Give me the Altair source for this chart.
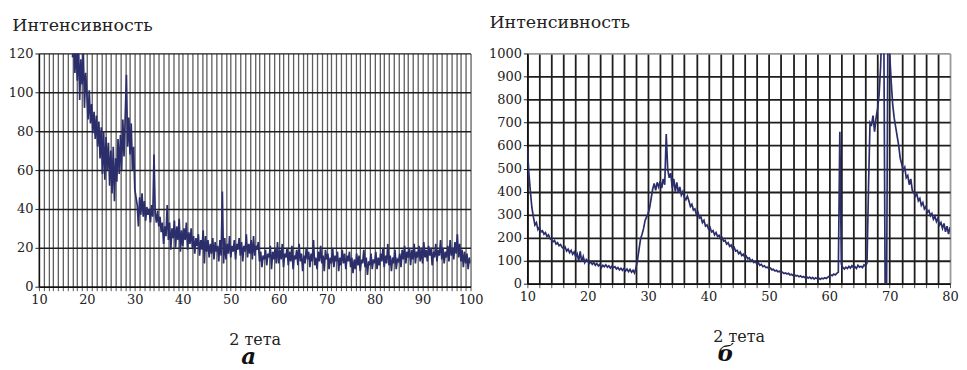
import altair as alt
import pandas as pd

# ---------------- Panel a: 2θ from 17 to 100, step 0.25 ----------------
A_START = 17.0
A_STEP = 0.25
a_17_20 = [118, 126, 110, 123, 106, 127, 96, 117, 104, 122, 92, 110]
a_20_25 = [99, 86, 101, 84, 94, 79, 90, 76, 88, 72, 85, 66, 82, 58, 80, 55, 77, 60, 74, 52]
a_25_30 = [70, 48, 72, 44, 66, 54, 76, 58, 78, 60, 86, 67, 88, 109, 72, 87, 68, 84, 60, 72]
a_30_35 = [50, 46, 42, 31, 46, 37, 48, 36, 44, 34, 41, 37, 40, 33, 42, 36, 68, 38, 33, 39]
a_35_40 = [31, 36, 28, 33, 22, 31, 26, 42, 24, 33, 19, 30, 25, 34, 20, 31, 24, 35, 18, 29]
a_40_45 = [21, 30, 24, 33, 19, 28, 22, 30, 20, 26, 17, 25, 21, 27, 16, 24, 19, 29, 12, 26]
a_45_50 = [18, 24, 15, 22, 17, 25, 14, 23, 18, 21, 13, 24, 16, 49, 12, 25, 14, 22, 17, 26]
a_50_55 = [15, 21, 18, 24, 14, 22, 19, 25, 16, 23, 13, 21, 18, 27, 15, 22, 17, 24, 14, 26]
a_55_60 = [16, 21, 19, 23, 13, 18, 10, 16, 14, 19, 11, 17, 15, 21, 9, 18, 14, 20, 12, 23]
a_60_65 = [12, 19, 14, 22, 10, 17, 15, 20, 11, 18, 13, 21, 9, 16, 14, 19, 11, 22, 13, 17]
a_65_70 = [8, 16, 12, 20, 14, 18, 10, 17, 13, 24, 11, 15, 9, 18, 13, 21, 12, 16, 8, 19]
a_70_75 = [14, 17, 9, 15, 12, 20, 10, 16, 13, 18, 8, 15, 11, 19, 12, 17, 9, 16, 13, 18]
a_75_80 = [10, 15, 7, 14, 9, 17, 11, 16, 8, 14, 12, 19, 10, 15, 6, 13, 11, 17, 9, 14]
a_80_85 = [12, 18, 9, 15, 11, 17, 13, 20, 10, 16, 12, 22, 11, 16, 8, 15, 12, 19, 9, 14]
a_85_90 = [13, 17, 10, 19, 14, 21, 12, 18, 15, 20, 11, 19, 14, 22, 12, 18, 15, 21, 13, 20]
a_90_95 = [12, 23, 15, 19, 13, 21, 16, 20, 11, 18, 15, 22, 13, 19, 16, 24, 14, 20, 12, 18]
a_95_100 = [15, 21, 13, 24, 16, 20, 14, 23, 17, 27, 15, 22, 13, 19, 10, 18, 12, 17, 9, 15, 12]

# ---------------- Panel b: 2θ from 10 to 80, step 0.25 ----------------
B_START = 10.0
B_STEP = 0.25
b_10_20 = [590, 480, 400, 330, 290, 255, 265, 235, 245, 225, 230, 215, 222, 205, 212, 196,
           190, 182, 188, 172, 178, 165, 170, 158, 152, 160, 142, 150, 135, 145, 128, 138,
           118, 130, 98, 140, 95, 118, 92, 105]
b_20_30 = [98, 88, 95, 84, 92, 80, 88, 77, 84, 70, 80, 74, 82, 72, 78, 68, 76, 70, 74, 64,
           70, 60, 67, 58, 66, 55, 64, 52, 62, 50, 58, 46, 70, 105, 150, 195, 215, 240, 275, 290]
b_30_40 = [305, 330, 370, 410, 435, 405, 440, 420, 445, 415, 455, 430, 650, 495, 460, 480,
           415, 455, 400, 440, 395, 420, 385, 400, 375, 365, 380, 360, 335, 345, 320, 325,
           300, 310, 285, 290, 265, 275, 250, 255]
b_40_50 = [238, 245, 225, 230, 212, 222, 205, 210, 195, 200, 185, 188, 172, 178, 162, 168,
           150, 158, 142, 145, 130, 138, 122, 128, 115, 120, 108, 112, 98, 104, 92, 96,
           86, 90, 80, 84, 74, 78, 70, 72]
b_50_60 = [65, 68, 60, 63, 55, 58, 52, 54, 48, 50, 44, 47, 42, 45, 38, 41, 36, 39, 33, 36,
           30, 34, 28, 31, 26, 30, 24, 29, 22, 27, 20, 26, 22, 25, 19, 24, 21, 26, 23, 28]
b_60_70 = [32, 38, 35, 42, 38, 45, 50, 660, 85, 70, 64, 72, 66, 75, 68, 78, 70, 74, 66, 80,
           72, 76, 70, 82, 76, 90, 420, 700, 690, 730, 660, 720, 760, 820, 940, 1150,
           1300, 0, 0, 1300]
b_70_80 = [1000, 880, 780, 720, 680, 640, 600, 545, 520, 490, 505, 460, 470, 430, 455, 405,
           395, 380, 390, 360, 370, 340, 352, 325, 335, 310, 318, 295, 305, 280, 292, 270,
           285, 255, 265, 240, 262, 225, 250, 215, 245]

a_vals = (a_17_20 + a_20_25 + a_25_30 + a_30_35 + a_35_40 + a_40_45 + a_45_50 + a_50_55
          + a_55_60 + a_60_65 + a_65_70 + a_70_75 + a_75_80 + a_80_85 + a_85_90 + a_90_95 + a_95_100)
b_vals = b_10_20 + b_20_30 + b_30_40 + b_40_50 + b_50_60 + b_60_70 + b_70_80

df_a = pd.DataFrame({"x": [A_START + i * A_STEP for i in range(len(a_vals))], "y": a_vals})
df_b = pd.DataFrame({"x": [B_START + i * B_STEP for i in range(len(b_vals))], "y": b_vals})

Y_TITLE = "Интенсивность"
X_TITLE = "2 тета"
LINE = "#2b2e6b"
FONT = "DejaVu Serif"


def panel(df, xdom, xstep, ydom, ystep, w, h, vgrid, hgrid, letter, ldx, toff, tdx):
    xvals = list(range(xdom[0], xdom[1] + 1, xstep))
    yvals = list(range(ydom[0], ydom[1] + 1, ystep))
    line = alt.Chart(df).mark_line(color=LINE, strokeWidth=1.7, clip=True).encode(
        x=alt.X("x:Q",
                scale=alt.Scale(domain=xdom, nice=False, zero=False),
                axis=alt.Axis(values=xvals, title=X_TITLE,
                              labelExpr="datum.value % 10 == 0 ? datum.label : ''",
                              labelOverlap=False, labelFlush=False,
                              grid=True, gridColor=vgrid[0], gridWidth=vgrid[1],
                              tickSize=4, tickColor="#555", domainColor="#111",
                              domainWidth=1.5, labelPadding=3, titlePadding=25)),
        y=alt.Y("y:Q",
                scale=alt.Scale(domain=ydom, nice=False),
                axis=alt.Axis(values=yvals, title=None, format="d", grid=True,
                              gridColor=hgrid[0], gridWidth=hgrid[1],
                              tickSize=4, tickColor="#222", domainColor="#111",
                              domainWidth=1.5, labelPadding=2, labelOverlap=False)),
    )
    lab = alt.Chart(pd.DataFrame({"t": [letter]})).mark_text(
        font=FONT, fontSize=23, fontStyle="italic", fontWeight="bold",
        color="#111", baseline="alphabetic", align="center"
    ).encode(x=alt.value(w / 2 + ldx), y=alt.value(h + 78), text="t:N")
    return alt.layer(line, lab).properties(
        width=w, height=h,
        title=alt.TitleParams(Y_TITLE, anchor="start", frame="bounds", offset=toff, dx=tdx,
                              fontSize=17.5, font=FONT, fontWeight="normal", color="#222"),
    )


left = panel(df_a, (10, 100), 1, (0, 120), 20, 433, 234,
             ("#5e5e5e", 1.3), ("#1e1e1e", 1.4), "а", -6, 13, 4)
right = panel(df_b, (10, 80), 2, (0, 1000), 100, 424, 231,
              ({"condition": {"test": "datum.value == 80", "value": "#999"}, "value": "#1e1e1e"}, 1.8),
              ({"condition": {"test": "datum.value == 1000", "value": "#999"}, "value": "#1e1e1e"}, 1.8),
              "б", -13, 16, 1)

chart = alt.hconcat(left, right, spacing=4).properties(
    padding={"left": 0, "top": 5, "right": 0, "bottom": 0}
).configure(font=FONT).configure_view(stroke=None).configure_axis(
    labelFont=FONT, labelFontSize=13, labelColor="#222",
    titleFont=FONT, titleFontSize=16, titleFontWeight="normal", titleColor="#222"
)

chart.save("out.html", embed_options={"renderer": "svg", "actions": False})
